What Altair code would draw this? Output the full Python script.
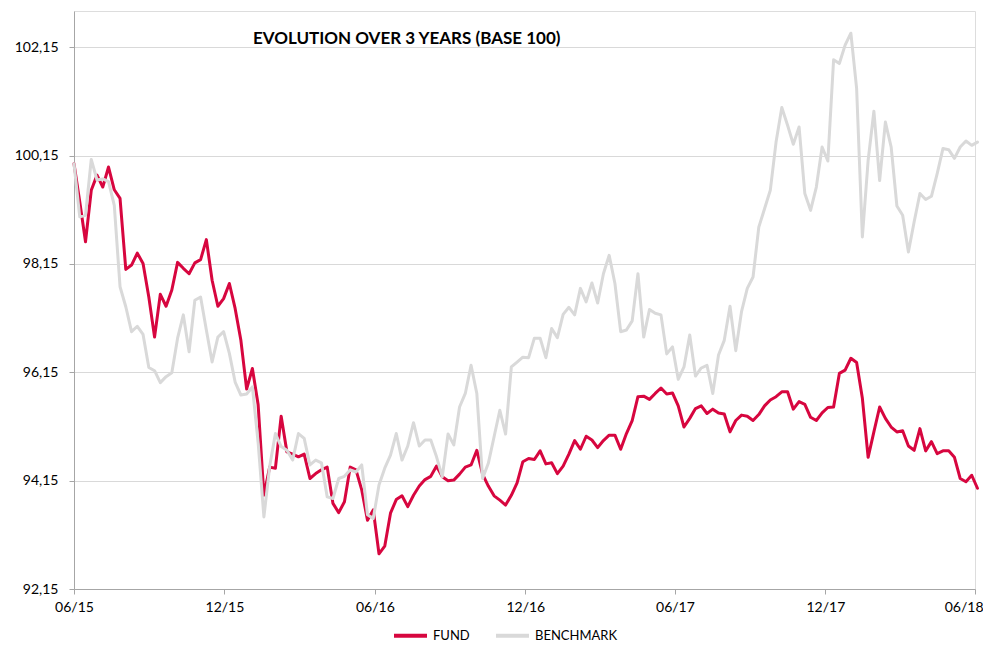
import altair as alt
import pandas as pd

# ---- data (weekly, base 100) ----
FUND = [
    100.00, 99.30, 98.56, 99.51, 99.79, 99.57, 99.94, 99.52, 99.36, 98.05,
    98.13, 98.35, 98.16, 97.54, 96.80, 97.59, 97.37, 97.67, 98.18, 98.07,
    97.97, 98.17, 98.23, 98.60, 97.85, 97.37, 97.51, 97.79, 97.33, 96.74,
    95.84, 96.22, 95.55, 93.88, 94.40, 94.38, 95.34, 94.68, 94.64, 94.59,
    94.64, 94.19, 94.28, 94.35, 94.40, 93.73, 93.56, 93.76, 94.40, 94.35,
    93.98, 93.42, 93.61, 92.80, 92.94, 93.55, 93.80, 93.87, 93.67, 93.88,
    94.05, 94.17, 94.23, 94.42, 94.22, 94.15, 94.16, 94.27, 94.40, 94.44,
    94.71, 94.27, 94.05, 93.87, 93.79, 93.70, 93.88, 94.11, 94.50, 94.56,
    94.54, 94.70, 94.46, 94.48, 94.28, 94.42, 94.64, 94.89, 94.73, 94.97,
    94.90, 94.76, 94.89, 94.99, 94.99, 94.73, 95.02, 95.26, 95.70, 95.71,
    95.65, 95.76, 95.86, 95.75, 95.77, 95.53, 95.14, 95.30, 95.48, 95.53,
    95.39, 95.47, 95.40, 95.38, 95.05, 95.26, 95.36, 95.34, 95.26, 95.37,
    95.53, 95.64, 95.70, 95.79, 95.79, 95.47, 95.61, 95.56, 95.32, 95.26,
    95.40, 95.50, 95.51, 96.13, 96.19, 96.41, 96.33, 95.67, 94.58, 95.05,
    95.51, 95.30, 95.14, 95.05, 95.07, 94.79, 94.71, 95.11, 94.70, 94.87,
    94.65, 94.70, 94.70, 94.58, 94.19, 94.13, 94.25, 94.01,
]

BENCHMARK = [
    100.00, 99.02, 99.05, 100.08, 99.70, 99.72, 99.67, 99.23, 97.73, 97.36,
    96.90, 97.00, 96.85, 96.24, 96.18, 95.96, 96.07, 96.14, 96.78, 97.21,
    96.53, 97.48, 97.54, 96.93, 96.34, 96.80, 96.90, 96.50, 95.97, 95.73,
    95.75, 95.88, 94.85, 93.48, 94.41, 95.02, 94.78, 94.71, 94.53, 95.02,
    94.93, 94.44, 94.53, 94.48, 93.85, 93.82, 94.19, 94.23, 94.35, 94.31,
    94.44, 93.52, 93.45, 94.07, 94.38, 94.62, 95.02, 94.53, 94.79, 95.22,
    94.79, 94.90, 94.90, 94.59, 94.22, 95.01, 94.81, 95.51, 95.76, 96.28,
    95.76, 94.19, 94.47, 94.96, 95.45, 95.01, 96.25, 96.34, 96.43, 96.42,
    96.78, 96.78, 96.42, 96.96, 96.79, 97.22, 97.35, 97.21, 97.70, 97.45,
    97.80, 97.43, 97.97, 98.31, 97.79, 96.90, 96.93, 97.10, 97.97, 96.80,
    97.31, 97.24, 97.21, 96.49, 96.62, 96.02, 96.25, 96.84, 96.08, 96.23,
    96.28, 95.76, 96.47, 96.74, 97.37, 96.55, 97.27, 97.70, 97.91, 98.83,
    99.17, 99.51, 100.40, 101.04, 100.71, 100.36, 100.68, 99.45, 99.14, 99.57,
    100.31, 100.05, 101.92, 101.85, 102.19, 102.41, 101.39, 98.65, 100.06, 100.97,
    99.69, 100.77, 100.31, 99.22, 99.05, 98.37, 98.93, 99.45, 99.34, 99.40,
    99.82, 100.28, 100.26, 100.10, 100.31, 100.42, 100.34, 100.40,
]

SERIES = ["FUND", "BENCHMARK"]
COLORS = ["#D7063F", "#D9D9D9"]
Y_TICKS = [92.15, 94.15, 96.15, 98.15, 100.15, 102.15]
X_TICKS = [(2015, 6), (2015, 12), (2016, 6), (2016, 12), (2017, 6), (2017, 12), (2018, 6)]
TITLE = "EVOLUTION OVER 3 YEARS (BASE 100)"
FONT = "Lato"

n = len(FUND)
dates = list(pd.date_range("2015-06-01", periods=n, freq="7D").strftime("%Y-%m-%d"))
df = pd.DataFrame({
    "date": dates * 2,
    "value": FUND + BENCHMARK,
    "series": ["FUND"] * n + ["BENCHMARK"] * len(BENCHMARK),
})

last_tick = "datum.value > utc(2018, 0, 1)"

x = alt.X(
    "date:T",
    scale=alt.Scale(domain=[alt.DateTime(year=2015, month=6, date=1, utc=True),
                            alt.DateTime(year=2018, month=6, date=1, utc=True)]),
    axis=alt.Axis(
        values=[alt.DateTime(year=yy, month=mm, date=1, utc=True) for yy, mm in X_TICKS],
        labelExpr="utcFormat(datum.value, '%m/%y')", labelAngle=0, grid=False, title=None,
        tickSize=5, labelPadding=6, domainColor="#A6A6A6", tickColor="#A6A6A6",
        labelFont=FONT, labelFontSize=14, labelColor="#000000",
        labelAlign={"condition": {"test": last_tick, "value": "right"}, "value": "center"},
        labelOffset={"condition": {"test": last_tick, "value": 8}, "value": 0},
    ),
)
y = alt.Y(
    "value:Q",
    scale=alt.Scale(domain=[92.15, 102.82], nice=False, zero=False),
    axis=alt.Axis(
        values=Y_TICKS, labelExpr="replace(format(datum.value, '.2f'), '.', ',')",
        grid=True, gridColor="#D9D9D9", gridWidth=1, title=None,
        tickSize=5, labelPadding=11, domainColor="#A6A6A6", tickColor="#A6A6A6",
        labelFont=FONT, labelFontSize=14, labelColor="#000000",
    ),
)
color = alt.Color(
    "series:N",
    scale=alt.Scale(domain=SERIES, range=COLORS),
    legend=alt.Legend(
        title=None, orient="none", legendX=318, legendY=606, direction="horizontal",
        symbolType="stroke", symbolSize=1089, symbolStrokeWidth=4, padding=0,
        labelFont=FONT, labelFontSize=13, labelColor="#000000", labelOffset=4,
        columnPadding=18,
    ),
)

base = alt.Chart(df).mark_line(strokeWidth=3, strokeJoin="round", strokeCap="round").encode(
    x=x, y=y, color=color
)
fund_layer = base.transform_filter(alt.datum.series == "FUND")
bench_layer = base.transform_filter(alt.datum.series == "BENCHMARK")

chart = alt.layer(fund_layer, bench_layer).properties(
    width=901,
    height=578,
    padding={"left": 66, "top": 3, "right": 8, "bottom": 53},
    autosize=alt.AutoSizeParams(type="none"),
    title=alt.TitleParams(
        TITLE, anchor="start", frame="group", orient="top", offset=0,
        dx=179, dy=50, baseline="alphabetic",
        font=FONT, fontSize=17, fontWeight="bold", color="#000000",
    ),
).configure_view(stroke=None).configure(background="white")

chart.save("out.html", embed_options={"renderer": "svg", "actions": False})
